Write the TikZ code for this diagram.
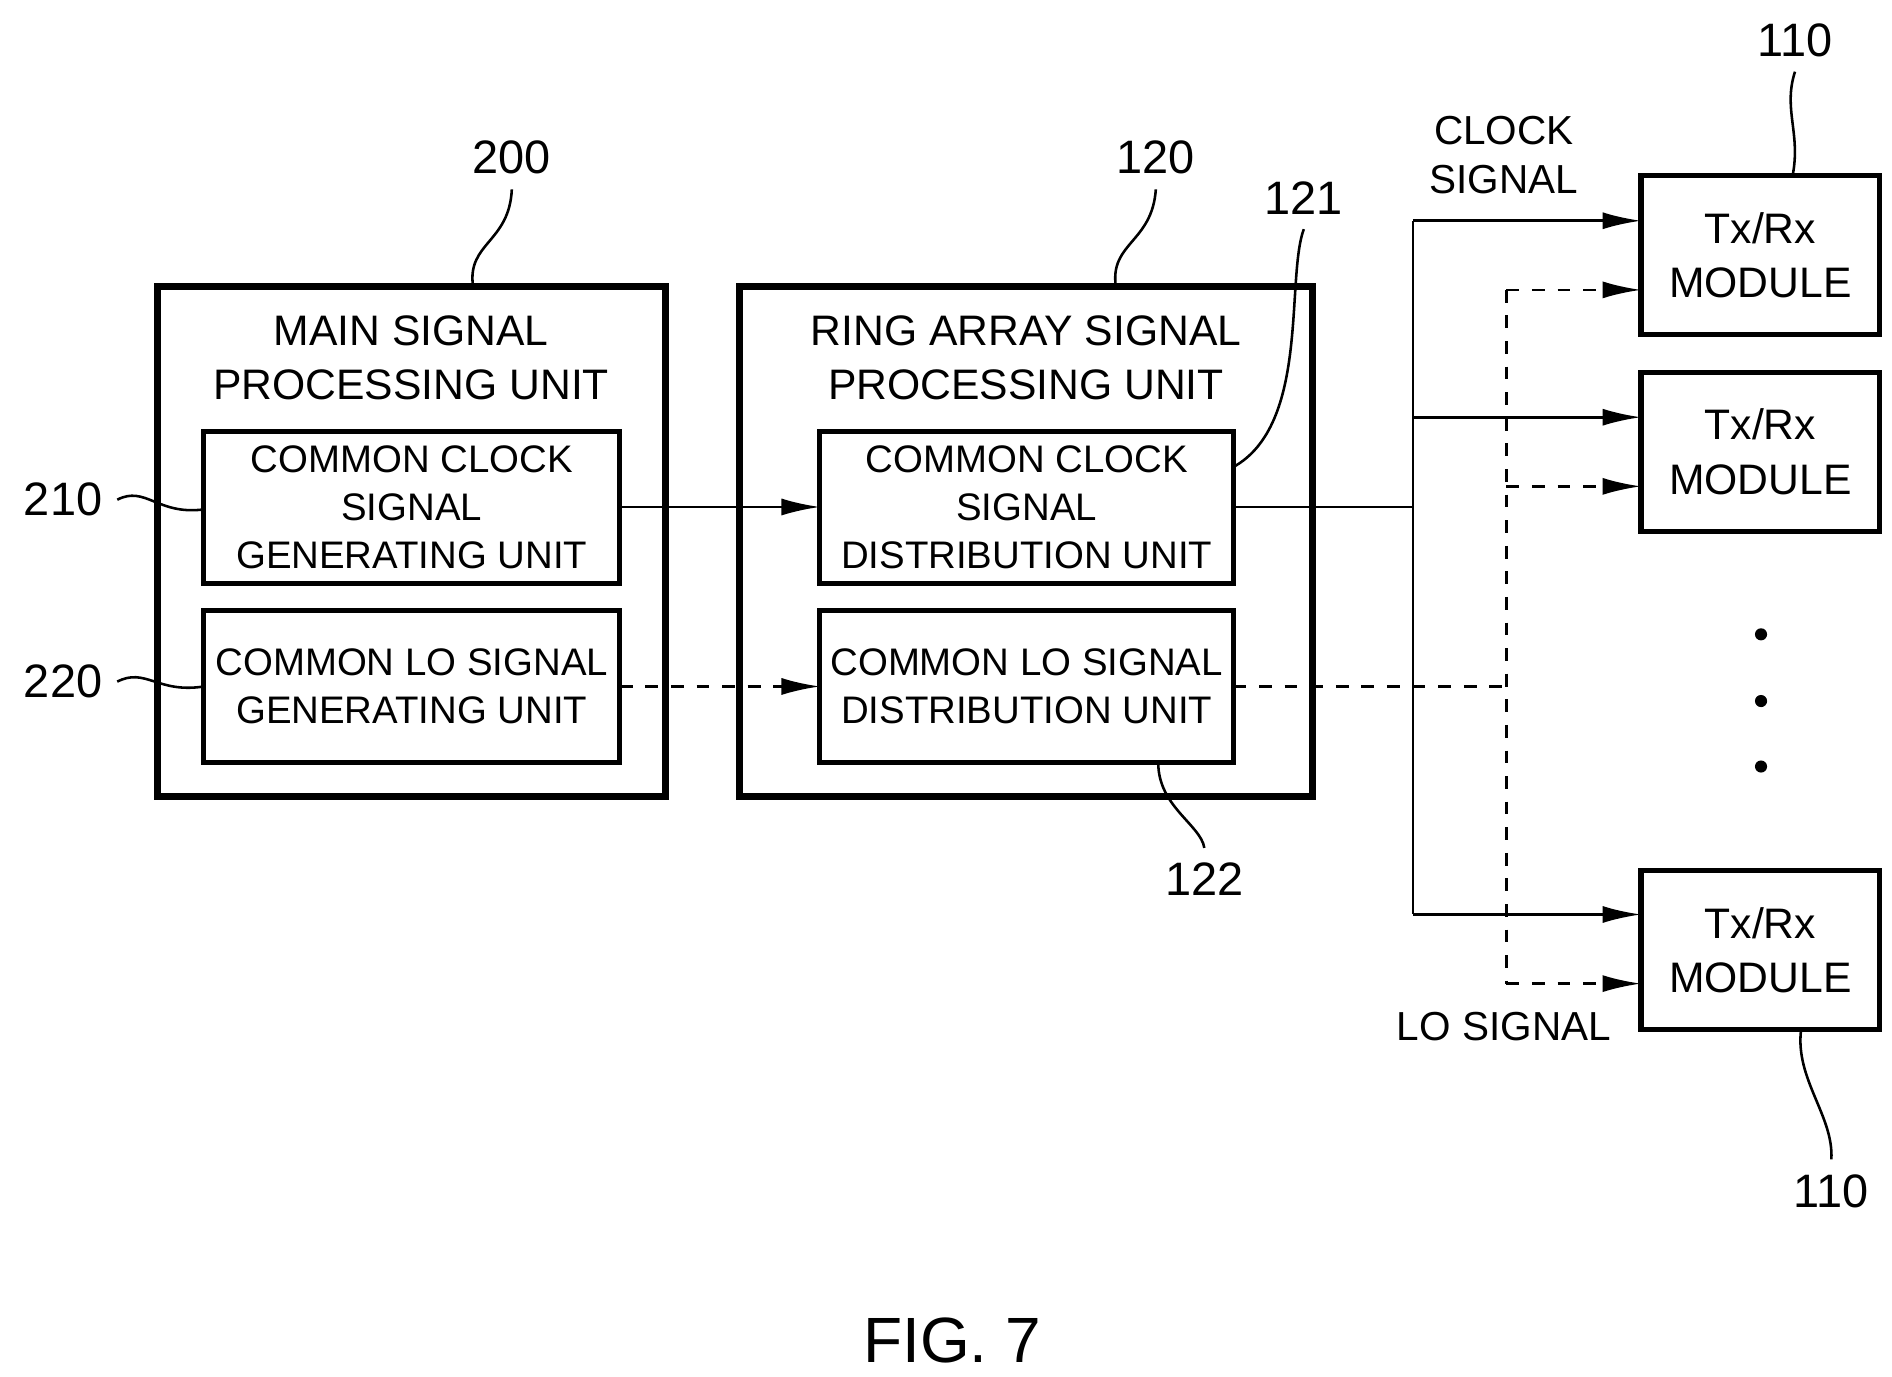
\documentclass[tikz,border=0pt]{standalone}
\usepackage{fontspec}
\setmainfont{Liberation Sans}
\usetikzlibrary{arrows.meta}
\begin{document}
\begin{tikzpicture}[x=0.01cm,y=-0.01cm,
    outer/.style={draw,line width=1.6pt},
    inner/.style={draw,line width=1.2pt},
    txt/.style={align=center,font=\fontsize{9}{11.3}\selectfont},
    num/.style={font=\fontsize{11}{13}\selectfont},
    sig/.style={line width=0.6pt,-{Latex[length=9pt,width=4pt]}},
    lo/.style={sig,dashed},
    lead/.style={line width=0.6pt}]
\useasboundingbox (0,0) rectangle (1560,1135);
% blocks
\draw[outer] (130,236) rectangle (549,657);
\draw[outer] (610,236) rectangle (1082,657);
\node[txt,font=\fontsize{10}{12.8}\selectfont] (t200) at (339,295) {MAIN SIGNAL\\PROCESSING UNIT};
\node[txt,font=\fontsize{10}{12.8}\selectfont] (t120) at (846,295) {RING ARRAY SIGNAL\\PROCESSING UNIT};
\draw[inner] (168,356) rectangle (511,481) node[midway,txt] (g210) {COMMON CLOCK\\SIGNAL\\GENERATING UNIT};
\draw[inner] (168,503) rectangle (511,629) node[midway,txt] (g220) {COMMON LO SIGNAL\\GENERATING UNIT};
\draw[inner] (676,356) rectangle (1017,481) node[midway,txt] (d121) {COMMON CLOCK\\SIGNAL\\DISTRIBUTION UNIT};
\draw[inner] (676,503) rectangle (1017,629) node[midway,txt] (d122) {COMMON LO SIGNAL\\DISTRIBUTION UNIT};
% modules
\foreach \y/\n in {145/m1,307/m2,718/m3}{
  \draw[inner] (1353,\y) rectangle ++(197,131)
    node[midway,txt,font=\fontsize{10}{12.8}\selectfont] (\n) {Tx/Rx\\MODULE};
}
\foreach \y in {523,578,632} \fill (1452,\y) circle (5);
% signals
\coordinate (cs) at (511,418);
\coordinate (ce) at (676,418);
\coordinate (ls) at (511,566);
\coordinate (le) at (676,566);
\draw[sig] (cs) -- (ce);
\draw[lo] (ls) -- (le);
\draw[line width=0.6pt] (1017,418) -- (1165,418);
\draw[line width=0.6pt] (1165,182) -- (1165,754);
\draw[line width=0.6pt,dashed] (1017,566) -- (1242,566);
\draw[line width=0.6pt,dashed] (1242,239) -- (1242,811);
\foreach \y in {182,344,754} \draw[sig] (1165,\y) -- (1353,\y);
\foreach \y in {239,401,811} \draw[lo] (1242,\y) -- (1353,\y);
\node[txt,font=\fontsize{9.5}{11.5}\selectfont] (clk) at (1240,128) {CLOCK\\SIGNAL};
\node[txt,font=\fontsize{9.5}{11.5}\selectfont] (los) at (1240,846) {LO SIGNAL};
% reference numbers
\node[num] (n200) at (422,130) {200};
\node[num] (n120) at (953,130) {120};
\node[num] (n121) at (1075,163) {121};
\node[num] (n122) at (993,725) {122};
\node[num] (n210) at (52,412) {210};
\node[num] (n220) at (52,562) {220};
\node[num] (n110a) at (1480,33) {110};
\node[num] (n110b) at (1510,982) {110};
\draw[lead] (n200.south) .. controls (420,200) and (385,200) .. (390,236);
\draw[lead] (n120.south) .. controls (950,200) and (915,200) .. (920,236);
\draw[lead] (n121.south) .. controls (1060,230) and (1080,350) .. (1017,385);
\draw[lead] (n122.north) .. controls (990,680) and (955,665) .. (955,629);
\draw[lead] (n210.east) .. controls (120,400) and (130,425) .. (168,420);
\draw[lead] (n220.east) .. controls (120,550) and (130,572) .. (168,566);
\draw[lead] (n110a.south) .. controls (1470,90) and (1485,110) .. (1478,145);
\draw[lead] (n110b.north) .. controls (1512,920) and (1480,890) .. (1485,849);
\node[font=\fontsize{15}{18}\selectfont] (fig) at (785,1105) {FIG. 7};
\end{tikzpicture}
\end{document}
